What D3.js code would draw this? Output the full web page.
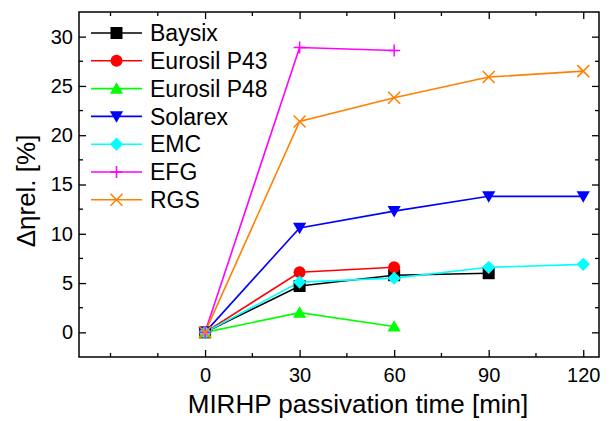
<!DOCTYPE html>
<html>
<head>
<meta charset="utf-8">
<script src="https://cdn.jsdelivr.net/npm/d3@7"></script>
<style>
  body { margin: 0; background: #fff; }
  svg { font-family: Arial, "Liberation Sans", sans-serif; }
</style>
</head>
<body>
<svg width="611" height="421"></svg>
<script>
const times = [0, 30, 60, 90, 120];
const xTicks = [0, 30, 60, 90, 120];
const yTicks = [0, 5, 10, 15, 20, 25, 30];

const names = ["Baysix", "Eurosil P43", "Eurosil P48", "Solarex", "EMC", "EFG", "RGS"];
const colors = ["#000000", "#ff0000", "#00ff00", "#0000ff", "#00ffff", "#ff00ff", "#ff8000"];
const symbols = ["square", "circle", "triangle", "triangleDown", "diamond", "plus", "cross"];

const baysix = [0, 4.7, 5.8, 6.0];
const p43 = [0, 6.1, 6.6];
const p48 = [0, 2.0, 0.6];
const solarex = [0, 10.6, 12.3, 13.8, 13.8];
const emc = [0, 5.1, 5.5, 6.6, 6.9];
const efg = [0, 28.9, 28.6];
const rgs = [0, 21.4, 23.8, 25.9, 26.5];
const series = [baysix, p43, p48, solarex, emc, efg, rgs];

const svg = d3.select('svg');
const pl = 79, pr = 599, pt = 12, pb = 357;

const x = d3.scaleLinear().domain([-40, 125]).range([pl, pr]);
const y = d3.scaleLinear().domain([-2.5, 32.5]).range([pb, pt]);

// marker path, centred at 0,0
const marker = (type, s) => {
	const h = s / 2;
	switch (type) {
		case 'square': return `M${-h},${-h}H${h}V${h}H${-h}Z`;
		case 'circle': return `M${h},0A${h},${h} 0 1,1 ${-h},0A${h},${h} 0 1,1 ${h},0Z`;
		case 'triangle': return `M0,${-h * 1.05}L${h * 1.1},${h * 0.85}L${-h * 1.1},${h * 0.85}Z`;
		case 'triangleDown': return `M0,${h * 1.05}L${h * 1.1},${-h * 0.85}L${-h * 1.1},${-h * 0.85}Z`;
		case 'diamond': return `M0,${-h * 1.1}L${h * 1.1},0L0,${h * 1.1}L${-h * 1.1},0Z`;
		case 'plus': return `M${-h},0H${h}M0,${-h}V${h}`;
		case 'cross': return `M${-h},${-h}L${h},${h}M${h},${-h}L${-h},${h}`;
	}
};
const isOpen = t => t === 'plus' || t === 'cross';

const drawMarker = (g, type, color, cx, cy) => {
	g.append('path')
		.attr('d', marker(type, 12))
		.attr('transform', `translate(${cx},${cy})`)
		.attr('fill', isOpen(type) ? 'none' : color)
		.attr('stroke', color)
		.attr('stroke-width', isOpen(type) ? 1.5 : 0);
};

// axes frame
const axisB = d3.axisBottom(x).tickValues(xTicks).tickSize(-7).tickPadding(11).tickFormat(d3.format('d'));
const axisT = d3.axisTop(x).tickValues(xTicks).tickSize(-7).tickFormat('');
const axisL = d3.axisLeft(y).tickValues(yTicks).tickSize(-7).tickPadding(6);
const axisR = d3.axisRight(y).tickValues(yTicks).tickSize(-7).tickFormat('');

const minorX = [-30, -15, 15, 45, 75, 105];
const minorY = [2.5, 7.5, 12.5, 17.5, 22.5, 27.5];

const gx = svg.append('g').attr('transform', `translate(0,${pb})`).call(axisB);
const gxt = svg.append('g').attr('transform', `translate(0,${pt})`).call(axisT);
const gy = svg.append('g').attr('transform', `translate(${pl},0)`).call(axisL);
const gyr = svg.append('g').attr('transform', `translate(${pr},0)`).call(axisR);

[gx, gxt, gy, gyr].forEach(g => {
	g.select('.domain').remove();
	g.selectAll('line').attr('stroke', '#000').attr('stroke-width', 1.3);
	g.selectAll('text').attr('fill', '#000').style('font-size', '20px');
});

const minor = svg.append('g').attr('stroke', '#000').attr('stroke-width', 1.3);
minorX.forEach(v => {
	minor.append('line').attr('x1', x(v)).attr('x2', x(v)).attr('y1', pb).attr('y2', pb - 4);
	minor.append('line').attr('x1', x(v)).attr('x2', x(v)).attr('y1', pt).attr('y2', pt + 4);
});
minorY.forEach(v => {
	minor.append('line').attr('x1', pl).attr('x2', pl + 4).attr('y1', y(v)).attr('y2', y(v));
	minor.append('line').attr('x1', pr).attr('x2', pr - 4).attr('y1', y(v)).attr('y2', y(v));
});

svg.append('rect')
	.attr('x', pl).attr('y', pt)
	.attr('width', pr - pl).attr('height', pb - pt)
	.attr('fill', 'none').attr('stroke', '#000').attr('stroke-width', 1.5);

// data
const line = d3.line().x((d, i) => x(times[i])).y(d => y(d));
const plot = svg.append('g');
series.forEach((vals, k) => {
	plot.append('path')
		.attr('d', line(vals))
		.attr('fill', 'none')
		.attr('stroke', colors[k])
		.attr('stroke-width', 1.6);
});
series.forEach((vals, k) => {
	vals.forEach((v, i) => drawMarker(plot, symbols[k], colors[k], x(times[i]), y(v)));
});

// legend
const legend = svg.append('g');
names.forEach((n, k) => {
	const ly = 33 + k * 27.8;
	legend.append('line')
		.attr('x1', 91).attr('x2', 142).attr('y1', ly).attr('y2', ly)
		.attr('stroke', colors[k]).attr('stroke-width', 1.6);
	drawMarker(legend, symbols[k], colors[k], 116.5, ly);
	legend.append('text')
		.attr('x', 150).attr('y', ly)
		.attr('dy', '0.36em')
		.style('font-size', '23px')
		.text(n);
});

// axis titles
svg.append('text')
	.attr('x', 358).attr('y', 413)
	.attr('text-anchor', 'middle')
	.style('font-size', '26px')
	.text('MIRHP passivation time [min]');

svg.append('text')
	.attr('transform', `translate(35,191) rotate(-90)`)
	.attr('text-anchor', 'middle')
	.style('font-size', '26px')
	.text('Δηrel. [%]');
</script>
</body>
</html>
